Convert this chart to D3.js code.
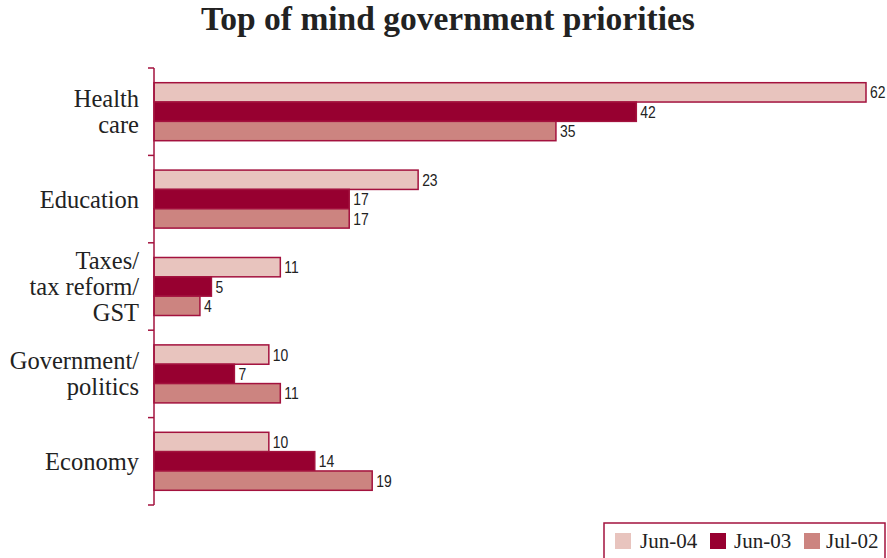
<!DOCTYPE html>
<html>
<head>
<meta charset="utf-8">
<script src="https://cdn.jsdelivr.net/npm/d3@7"></script>
<style>
  body { margin: 0; background: #fff; }
  svg { display: block; }
</style>
</head>
<body>
<svg id="chart" width="887" height="558"></svg>
<script>
// Survey categories and the three waves of responses (%)
const categories = ["Health care", "Education", "Taxes/ tax reform/ GST", "Government/ politics", "Economy"];
const categoryLines = [["Health", "care"], ["Education"], ["Taxes/", "tax reform/", "GST"], ["Government/", "politics"], ["Economy"]];
const seriesNames = ["Jun-04", "Jun-03", "Jul-02"];
const jun04 = [62, 23, 11, 10, 10];
const jun03 = [42, 17, 5, 7, 14];
const jul02 = [35, 17, 4, 11, 19];
const seriesValues = [jun04, jun03, jul02];
const seriesColors = ["#e8c4be", "#970030", "#cc8480"];
const strokeColor = "#a3123e";

const svg = d3.select("#chart");
const serif = "'Liberation Serif', 'DejaVu Serif', serif";
const sans = "'Liberation Sans', Arial, sans-serif";

const x = d3.scaleLinear().domain([0, 62]).range([154, 866]);
const y0 = d3.scaleBand().domain(categories).range([68, 505]);
const y1 = d3.scaleBand().domain(seriesNames).range([0, y0.step()]).paddingOuter(0.76);

// Title
svg.append("text")
  .attr("x", 448).attr("y", 30)
  .attr("text-anchor", "middle")
  .style("font-family", serif).style("font-weight", "bold").style("font-size", "33.5px")
  .attr("fill", "#222")
  .text("Top of mind government priorities");

// Bars
const rows = categories.map((c, i) => ({ c, i }));
const groups = svg.selectAll("g.cat").data(rows).join("g")
  .attr("class", "cat")
  .attr("transform", d => `translate(0,${y0(d.c)})`);

groups.selectAll("rect")
  .data(d => seriesNames.map((s, k) => ({ s, k, v: seriesValues[k][d.i] })))
  .join("rect")
  .attr("x", x(0))
  .attr("y", d => y1(d.s))
  .attr("width", d => x(d.v) - x(0))
  .attr("height", y1.bandwidth())
  .attr("fill", d => seriesColors[d.k])
  .attr("stroke", strokeColor)
  .attr("stroke-width", 1.5);

// Value labels in a condensed sans (horizontally compressed)
groups.selectAll("text.val")
  .data(d => seriesNames.map((s, k) => ({ s, k, v: seriesValues[k][d.i] })))
  .join("text")
  .attr("class", "val")
  .attr("transform", d => `translate(${x(d.v) + 4},${y1(d.s) + y1.bandwidth() / 2}) scale(0.82,1)`)
  .attr("dy", "0.36em")
  .style("font-family", sans).style("font-size", "17px")
  .attr("fill", "#222")
  .text(d => d.v);

// Axis line with ticks at the band boundaries
const axis = svg.append("g").attr("stroke", strokeColor).attr("stroke-width", 1.5);
axis.append("line").attr("x1", x(0)).attr("x2", x(0))
  .attr("y1", y0.range()[0]).attr("y2", y0.range()[1]);
const boundaries = categories.map(c => y0(c)).concat([y0.range()[1]]);
axis.selectAll("line.tick").data(boundaries).join("line")
  .attr("class", "tick")
  .attr("x1", x(0) - 6).attr("x2", x(0))
  .attr("y1", d => d).attr("y2", d => d);

// Category labels
groups.each(function(d) {
  const lines = categoryLines[d.i];
  const lh = 26;
  const cy = y0.bandwidth() / 2;
  const t = d3.select(this).append("text")
    .attr("text-anchor", "end")
    .style("font-family", serif).style("font-size", "24.5px")
    .attr("fill", "#222");
  lines.forEach((ln, j) => {
    t.append("tspan")
      .attr("x", 139)
      .attr("y", cy + (j - (lines.length - 1) / 2) * lh)
      .attr("dy", "0.35em")
      .text(ln);
  });
});

// Legend
const legend = svg.append("g");
legend.append("rect")
  .attr("x", 604).attr("y", 523).attr("width", 281).attr("height", 40)
  .attr("fill", "none").attr("stroke", strokeColor).attr("stroke-width", 1.5);
const legendX = [615, 710, 804];
const legendTextX = [640, 734, 826];
const items = legend.selectAll("g.item").data(seriesNames).join("g").attr("class", "item");
items.append("rect")
  .attr("x", (d, i) => legendX[i]).attr("y", 533)
  .attr("width", 16).attr("height", 16)
  .attr("fill", (d, i) => seriesColors[i]);
items.append("text")
  .attr("x", (d, i) => legendTextX[i]).attr("y", 541)
  .attr("dy", "0.35em")
  .style("font-family", serif).style("font-size", "21px")
  .attr("fill", "#222")
  .text(d => d);
</script>
</body>
</html>
